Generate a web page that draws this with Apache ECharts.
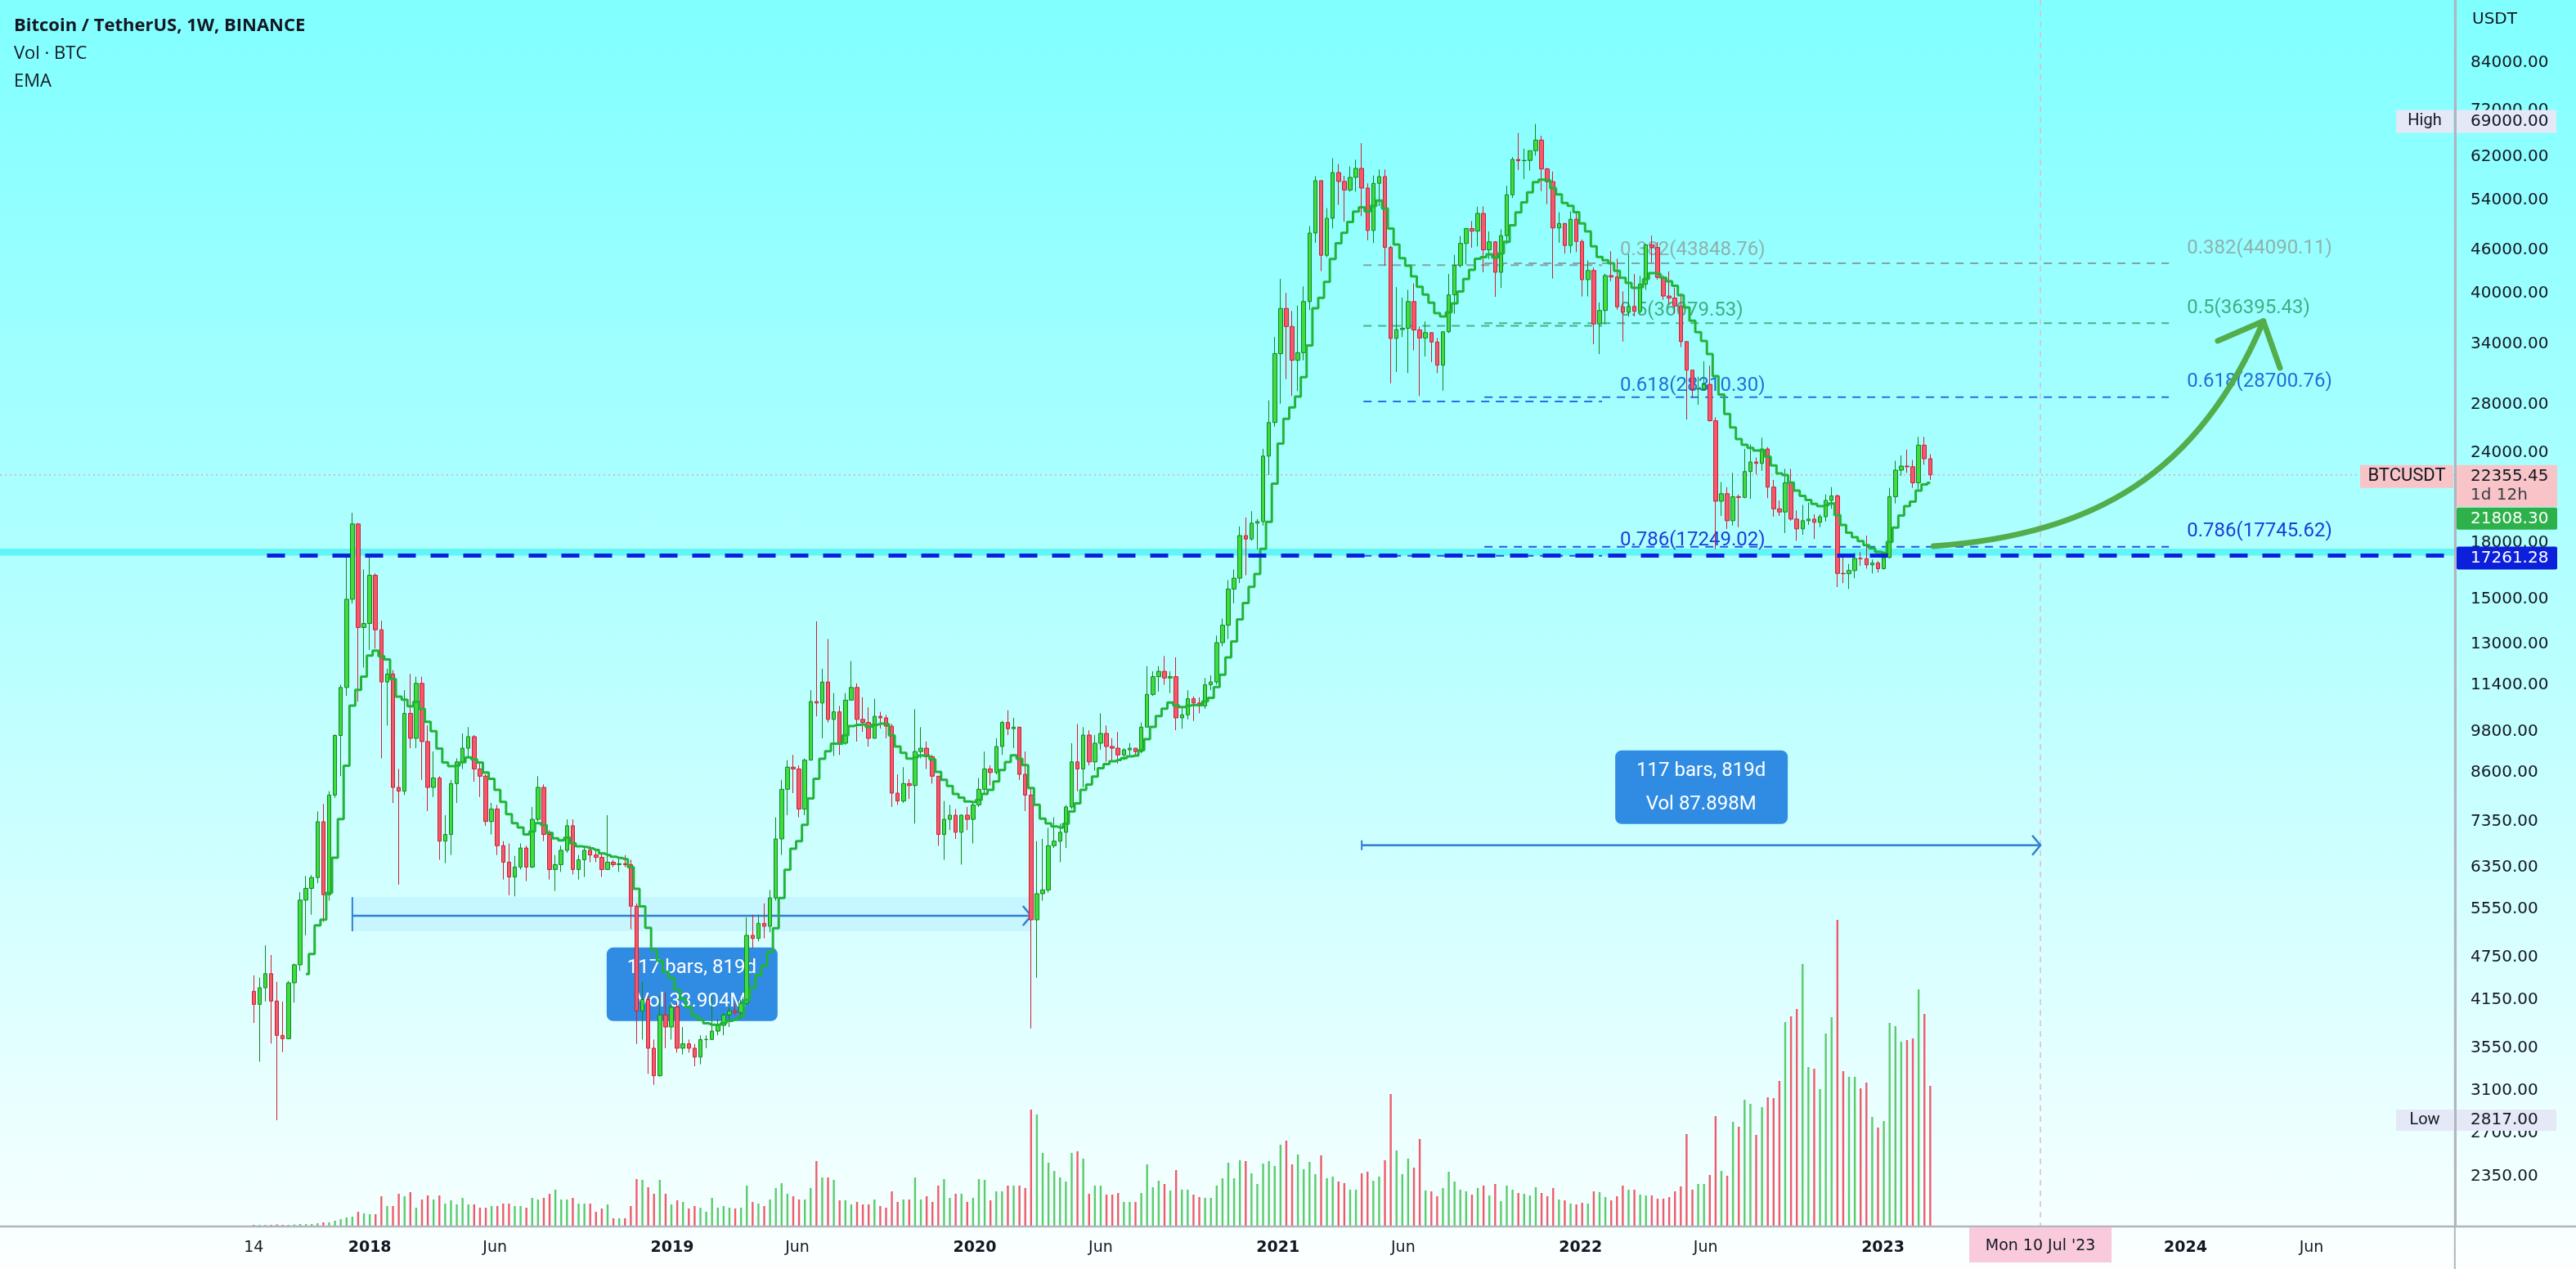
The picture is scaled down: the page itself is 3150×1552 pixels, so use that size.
<!DOCTYPE html>
<html><head><meta charset="utf-8">
<script src="https://cdn.jsdelivr.net/npm/echarts@6.0.0/dist/echarts.min.js"></script>
<style>
html,body{margin:0;padding:0;width:3150px;height:1552px;overflow:hidden;}
#c{width:3150px;height:1552px;background:linear-gradient(to bottom,#80ffff 0px,#b6ffff 760px,#f6ffff 1498px,#fdffff 1552px);}
</style></head>
<body><div id="c"></div>
<script>
// ---------- DATA (weekly BTCUSDT, Binance) ----------
const weeks = [
'2017-08-14','2017-08-21','2017-08-28','2017-09-04','2017-09-11','2017-09-18','2017-09-25','2017-10-02','2017-10-09','2017-10-16','2017-10-23','2017-10-30','2017-11-06','2017-11-13','2017-11-20','2017-11-27','2017-12-04','2017-12-11','2017-12-18','2017-12-25',
'2018-01-01','2018-01-08','2018-01-15','2018-01-22','2018-01-29','2018-02-05','2018-02-12','2018-02-19','2018-02-26','2018-03-05','2018-03-12','2018-03-19','2018-03-26','2018-04-02','2018-04-09','2018-04-16','2018-04-23','2018-04-30','2018-05-07','2018-05-14','2018-05-21','2018-05-28','2018-06-04','2018-06-11','2018-06-18','2018-06-25','2018-07-02','2018-07-09','2018-07-16','2018-07-23','2018-07-30','2018-08-06','2018-08-13','2018-08-20','2018-08-27','2018-09-03','2018-09-10','2018-09-17','2018-09-24','2018-10-01','2018-10-08','2018-10-15','2018-10-22','2018-10-29','2018-11-05','2018-11-12','2018-11-19','2018-11-26','2018-12-03','2018-12-10','2018-12-17','2018-12-24','2018-12-31',
'2019-01-07','2019-01-14','2019-01-21','2019-01-28','2019-02-04','2019-02-11','2019-02-18','2019-02-25','2019-03-04','2019-03-11','2019-03-18','2019-03-25','2019-04-01','2019-04-08','2019-04-15','2019-04-22','2019-04-29','2019-05-06','2019-05-13','2019-05-20','2019-05-27','2019-06-03','2019-06-10','2019-06-17','2019-06-24','2019-07-01','2019-07-08','2019-07-15','2019-07-22','2019-07-29','2019-08-05','2019-08-12','2019-08-19','2019-08-26','2019-09-02','2019-09-09','2019-09-16','2019-09-23','2019-09-30','2019-10-07','2019-10-14','2019-10-21','2019-10-28','2019-11-04','2019-11-11','2019-11-18','2019-11-25','2019-12-02','2019-12-09','2019-12-16','2019-12-23','2019-12-30',
'2020-01-06','2020-01-13','2020-01-20','2020-01-27','2020-02-03','2020-02-10','2020-02-17','2020-02-24','2020-03-02','2020-03-09','2020-03-16','2020-03-23','2020-03-30','2020-04-06','2020-04-13','2020-04-20','2020-04-27','2020-05-04','2020-05-11','2020-05-18','2020-05-25','2020-06-01','2020-06-08','2020-06-15','2020-06-22','2020-06-29','2020-07-06','2020-07-13','2020-07-20','2020-07-27','2020-08-03','2020-08-10','2020-08-17','2020-08-24','2020-08-31','2020-09-07','2020-09-14','2020-09-21','2020-09-28','2020-10-05','2020-10-12','2020-10-19','2020-10-26','2020-11-02','2020-11-09','2020-11-16','2020-11-23','2020-11-30','2020-12-07','2020-12-14','2020-12-21','2020-12-28',
'2021-01-04','2021-01-11','2021-01-18','2021-01-25','2021-02-01','2021-02-08','2021-02-15','2021-02-22','2021-03-01','2021-03-08','2021-03-15','2021-03-22','2021-03-29','2021-04-05','2021-04-12','2021-04-19','2021-04-26','2021-05-03','2021-05-10','2021-05-17','2021-05-24','2021-05-31','2021-06-07','2021-06-14','2021-06-21','2021-06-28','2021-07-05','2021-07-12','2021-07-19','2021-07-26','2021-08-02','2021-08-09','2021-08-16','2021-08-23','2021-08-30','2021-09-06','2021-09-13','2021-09-20','2021-09-27','2021-10-04','2021-10-11','2021-10-18','2021-10-25','2021-11-01','2021-11-08','2021-11-15','2021-11-22','2021-11-29','2021-12-06','2021-12-13','2021-12-20','2021-12-27',
'2022-01-03','2022-01-10','2022-01-17','2022-01-24','2022-01-31','2022-02-07','2022-02-14','2022-02-21','2022-02-28','2022-03-07','2022-03-14','2022-03-21','2022-03-28','2022-04-04','2022-04-11','2022-04-18','2022-04-25','2022-05-02','2022-05-09','2022-05-16','2022-05-23','2022-05-30','2022-06-06','2022-06-13','2022-06-20','2022-06-27','2022-07-04','2022-07-11','2022-07-18','2022-07-25','2022-08-01','2022-08-08','2022-08-15','2022-08-22','2022-08-29','2022-09-05','2022-09-12','2022-09-19','2022-09-26','2022-10-03','2022-10-10','2022-10-17','2022-10-24','2022-10-31','2022-11-07','2022-11-14','2022-11-21','2022-11-28','2022-12-05','2022-12-12','2022-12-19','2022-12-26',
'2023-01-02','2023-01-09','2023-01-16','2023-01-23','2023-01-30','2023-02-06','2023-02-13','2023-02-20','2023-02-27'
];
const open = [
4261,4086,4310,4509,4130,3699,3660,4379,4640,5710, 5930,6140,7345,5811,8000,9687,11300,15000,19100,13700,
13880,16200,13600,11500,11800,8200,8100,10400,9600,11450, 9500,8200,8450,6900,7050,8300,8900,9300,9650,8700,
8500,7350,7650,6800,6450,6150,6350,6750,6350,7400, 8200,7050,6300,6400,6700,7250,6300,6500,6700,6600,
6550,6300,6450,6400,6420,6400,5600,4000,4150,3550, 3250,3950,3800,4050,3550,3600,3550,3450,3650,3650,
3750,3820,3950,4000,3980,4100,5100,5050,5300,5250, 5750,6950,8150,8750,8700,7650,8950,10800,10750,11500,
10200,10450,9450,10850,11300,10200,10100,9600,10300,10250, 9980,8050,7850,8300,8250,9200,9300,9050,8500,7050,
7400,7500,7100,7500,7400,7750,8150,8700,8600,9350, 10100,9900,9950,8550,8000,5360,5830,5900,6800,6900,
7100,7700,8900,8700,9700,8900,9450,9750,9350,9300, 9100,9250,9300,9200,9950,11050,11700,11900,11650,11700,
10250,10350,10900,10750,10650,11400,11500,13050,13800,15500, 16050,18400,18200,19150,19250,23750,26450,33000,38150,36000,
32300,33100,39000,48600,57500,45250,50950,59000,57350,55800, 58100,59800,56150,49000,57000,58250,46400,34650,35650,35800,
39000,35600,34700,35300,34250,31800,35400,39850,43800,47000, 49300,48900,51750,46050,47250,42850,48200,54950,61550,61300,
61350,63300,65500,59700,57300,49400,50100,46700,50800,47300, 41850,43100,36300,37900,42400,42200,38350,37700,38400,37800,
41250,46800,46400,42150,39700,39450,38450,34300,31300,29450, 29460,29900,26600,20550,21050,19300,20850,20800,22600,23300,
23200,24300,21500,20050,19850,21800,19400,18800,19300,19400, 19200,19550,20600,20900,16300,16280,16450,17100,17090,16750,
16850,16550,17150,20850,22700,23000,22950,21800,24600,23550
];
const high = [
4485,4453,4939,4788,4394,4123,4406,4658,5857,6171, 6189,7590,7776,8100,9719,11400,17204,19798,19150,16500,
17250,16300,14000,12000,11950,8700,11200,11800,11700,11700, 10000,9200,8500,7500,8400,9000,9750,9950,9700,8880,
8550,7800,7750,6900,6850,6580,6850,6800,7700,8500, 8280,7150,6600,6800,7400,7400,6600,6800,6800,6700,
6650,7500,6500,6550,6600,6500,5650,4400,4200,3650, 4200,4250,4100,4100,3800,3650,3600,3700,3700,4200,
3900,3970,4050,4100,4150,5400,5450,5450,5650,5900, 7450,8400,8950,9100,8800,9000,11200,13970,12000,13200,
11100,10650,11100,12300,11450,10950,10600,10900,10450,10350, 10050,8550,8750,8420,10540,9950,9500,9100,8500,7850,
7750,7650,7520,7700,7850,8450,9200,8800,9600,10150, 10500,10250,9950,9200,8200,6900,6950,7200,7450,7300,
7750,9450,10050,9950,9850,9700,10400,10000,9600,9800, 9300,9450,9300,10100,12100,11900,12100,12500,11900,12450,
10600,11200,10990,10950,11650,11750,13350,14100,15950,16500, 18950,19500,19900,19400,24300,28400,34800,41950,40100,37850,
38500,40950,49700,58350,57500,52650,61800,60650,58400,60200, 61500,64854,57000,58450,59600,59600,46650,40850,39500,40500,
41350,36000,36600,35300,34700,35400,42600,45300,48150,49400, 50500,52900,52950,48850,47350,49200,56550,62000,67000,63700,
63300,69000,66400,59900,59200,51950,50200,52100,52100,47600, 44500,43500,38900,42650,45850,44750,40300,45400,42600,42350,
46900,48200,47200,42450,42950,40800,40050,34300,31300,30650, 32200,31750,26900,21850,21500,22500,21000,24300,24650,23650,
25200,24450,22000,20600,22800,22800,19950,20300,20450,19700, 19700,21000,21500,21000,17200,16800,17400,17450,18400,17050,
16950,17200,21450,23400,23800,24250,23450,25250,25250,23900
];
const low = [
3850,3400,4124,3603,2817,3505,3653,4110,4550,5100, 5450,6030,5325,5700,7930,8500,11000,14800,10800,12050,
12750,12800,9000,10000,7800,6000,8000,9300,9300,8400, 7600,7950,6500,6430,6600,7800,8700,9000,8350,7950,
7250,7050,6600,6100,5800,5780,6300,6070,6330,7350, 6900,6100,5880,6250,6650,6200,6100,6150,6450,6450,
6150,6300,6350,6250,6350,5200,3600,3650,3270,3156, 3240,3550,3650,3500,3480,3500,3350,3370,3550,3650,
3700,3700,3800,3950,3900,4080,4900,5000,5050,5150, 5700,6600,7500,8050,7450,7500,8950,10300,9600,10100,
9070,9100,9400,10850,9500,9800,9350,9600,9900,9600, 7700,7750,7800,7900,7300,9000,8700,8300,6800,6500,
7150,6950,6400,7150,6850,7700,8050,8250,8550,9100, 9700,9300,8400,7600,3782,4450,5700,5850,6750,6450,
6750,7650,8100,8200,8800,8650,9250,8900,8900,8850, 8950,9050,9050,9150,9950,11000,11150,11400,11100,9850,
9900,10200,10150,10400,10550,11200,11400,12900,13200,14800, 15800,16200,18100,17600,19000,22350,26100,28100,30400,28800,
29250,32300,37950,47100,43000,44950,49300,53200,50400,55500, 55500,51300,47500,47050,53000,43800,30000,31100,34800,31000,
33350,28800,32700,32100,31000,29300,35250,37500,43500,43950, 46350,46550,42850,44700,39600,40750,46900,54400,59500,57800,
59400,62300,55600,53300,42000,47100,45500,45550,45700,39650, 39650,34000,32950,36250,41650,38000,34300,37150,37200,37550,
40500,44200,41850,39200,38550,37550,33700,26700,28600,28000, 29300,26550,17622,19600,18800,19000,18900,20750,20700,22400,
22650,20750,19550,19600,18550,19300,18100,18450,19050,18200, 18900,19250,20050,15600,15800,15500,16050,16700,16550,16300,
16350,16500,17100,20400,22300,22500,21450,21350,23100,22000
];
const close = [
4086,4310,4509,4130,3699,3660,4379,4640,5710,5930, 6140,7345,5811,8000,9687,11300,15000,19100,13700,13880,
16200,13600,11500,11800,8200,8100,10400,9600,11450,9500, 8200,8450,6900,7050,8300,8900,9300,9650,8700,8500,
7350,7650,6800,6450,6150,6350,6750,6350,7400,8200, 7050,6300,6400,6700,7250,6300,6500,6700,6600,6550,
6300,6450,6400,6420,6400,5600,4000,4150,3550,3250, 3950,3800,4050,3550,3600,3550,3450,3650,3650,3750,
3820,3950,4000,3980,4100,5100,5050,5300,5250,5750, 6950,8150,8750,8700,7650,8950,10800,10750,11500,10200,
10450,9450,10850,11300,10200,10100,9600,10300,10250,9980, 8050,7850,8300,8250,9200,9300,9050,8500,7050,7400,
7500,7100,7500,7400,7750,8150,8700,8600,9350,10100, 9900,9950,8550,8000,5360,5830,5900,6800,6900,7100,
7700,8900,8700,9700,8900,9450,9750,9350,9300,9100, 9250,9300,9200,9950,11050,11700,11900,11650,11700,10250,
10350,10900,10750,10650,11400,11500,13050,13800,15500,16050, 18400,18200,19150,19250,23750,26450,33000,38150,36000,32300,
33100,39000,48600,57500,45250,50950,59000,57350,55800,58100, 59800,56150,49000,57000,58250,46400,34650,35650,35800,39000,
35600,34700,35300,34250,31800,35400,39850,43800,47000,49300, 48900,51750,46050,47250,42850,48200,54950,61550,61300,61350,
63300,65500,59700,57300,49400,50100,46700,50800,47300,41850, 43100,36300,37900,42400,42200,38350,37700,38400,37800,41250,
46800,46400,42150,39700,39450,38450,34300,31300,29450,29460, 29900,26600,20550,21050,19300,20850,20800,22600,23300,23200,
24300,21500,20050,19850,21800,19400,18800,19300,19400,19200, 19550,20600,20900,16300,16280,16450,17100,17090,16750,16850,
16550,17150,20850,22700,23000,22950,21800,24600,23550,22355.45
];
// weekly volume, thousand BTC
const volume = [
20,20,20,20,25,20,20,25,30,30, 30,40,50,50,70,90,110,120,180,160,
150,150,370,250,250,400,370,420,230,330, 380,330,380,280,320,270,350,270,270,230,
230,250,250,280,280,250,250,230,350,330, 350,400,450,330,330,350,280,280,280,180,
220,270,100,100,100,250,580,570,480,400, 570,400,270,320,300,220,250,230,180,350,
230,250,230,220,230,500,300,280,250,330, 470,530,400,370,330,330,470,800,600,600,
570,320,320,270,300,270,270,330,250,230, 430,300,330,330,600,330,370,300,500,580,
350,400,400,300,350,580,570,320,430,430, 500,500,500,470,1430,1370,900,780,680,600,
550,900,920,830,400,500,500,390,390,410, 300,300,300,410,760,480,560,520,440,690,
450,450,390,360,350,350,500,590,780,590, 810,800,650,520,770,800,740,1000,1050,760,
880,700,790,640,870,590,610,550,530,450, 450,650,670,560,610,810,1620,930,640,830,
720,1070,440,430,370,470,670,550,450,430, 390,470,500,380,520,310,500,450,410,400,
380,480,410,370,470,330,320,280,270,290, 280,430,420,360,320,370,500,450,450,390,
380,380,340,340,360,430,490,1130,450,520, 520,630,1350,680,620,1280,1220,1550,1500,1120,
1460,1580,1570,1780,2500,2570,2660,3210,1950,1930, 1680,2360,2560,3750,1900,1830,1830,1690,1760,1340,
1210,1290,2490,2450,2260,2280,2300,2900,2600,1720
];
const emaLength = 10;

// price-scale labels and date labels
const yTicks = [84000,72000,62000,54000,46000,40000,34000,28000,24000,18000,15000,13000,11400,9800,8600,7350,6350,5550,4750,4150,3550,3100,2700,2350];
const xTickDates = ['2017-08-14','2018-01-01','2018-06-01','2019-01-01','2019-06-01','2020-01-01','2020-06-01','2021-01-01','2021-06-01','2022-01-01','2022-06-01','2023-01-01','2024-01-01','2024-06-01'];
const xTickTexts = ['14','2018','Jun','2019','Jun','2020','Jun','2021','Jun','2022','Jun','2023','2024','Jun'];
const xTickBold  = [false,true,false,true,false,true,false,true,false,true,false,true,true,false];

// Fibonacci retracements
const fibLevels = [0.382, 0.5, 0.618, 0.786];
const fibAPrices = [43848.76, 36079.53, 28310.30, 17249.02];
const fibARange = ['2021-04-14', '2022-01-27'];
const fibBPrices = [44090.11, 36395.43, 28700.76, 17745.62];
const fibBRange = ['2021-09-07', '2023-12-12'];

// horizontal levels / labels
const supportLevel = 17261.28;
const supportStart = '2017-08-30';
const lastPrice = 22355.45;
const emaLastLabel = '21808.30';
const countdown = '1d 12h';
const allTimeHigh = 69000;
const visibleLow = 2817;
const crosshairDate = '2023-07-10';

// date-range measurements
const measure1Dates = ['2017-12-11', '2020-03-09'];
const measure1Price = 5430, measure1Band = [5168, 5765];
const measure1Text = ['117 bars, 819d', 'Vol 33.904M'];
const measure2Dates = ['2021-04-12', '2023-07-10'];
const measure2Price = 6810;
const measure2Text = ['117 bars, 819d', 'Vol 87.898M'];

// curved projection arrow (date, price anchors)
const arrowDates = ['2023-03-03', '2023-09-11', '2024-01-17', '2024-04-04'];
const arrowPrices = [17790, 18410, 22410, 36620];
const arrowHeadDates = ['2024-02-09', '2024-04-04', '2024-04-24'];
const arrowHeadPrices = [34380, 36620, 31530];

// ---------- CHART ----------
const T = s => Date.parse(s + 'T00:00:00Z');
const UP = '#3fdc3f', UP_B = '#10871f', DN = '#f25a6c', DN_B = '#cf1e33';
const candleData = weeks.map((w, i) => [T(w), open[i], close[i], low[i], high[i]]);
const volData = weeks.map((w, i) => ({ value: [T(w), volume[i]], itemStyle: { color: close[i] >= open[i] ? '#5ccb6c' : '#ee5c6c' } }));
// EMA(10) indicator of the closes, seeded with the SMA of the first 10 closes
const emaData = [];
{
  let e = null;
  for (let i = 0; i < close.length; i++) {
    if (i === emaLength - 1) { let s = 0; for (let j = 0; j < emaLength; j++) s += close[j]; e = s / emaLength; }
    else if (i >= emaLength) { e = close[i] * 2 / (emaLength + 1) + e * (1 - 2 / (emaLength + 1)); }
    if (e !== null) emaData.push([T(weeks[i]), e]);
  }
}

const chart = echarts.init(document.getElementById('c'), null, { renderer: 'canvas', width: 3150, height: 1552 });
const X_MIN = Date.UTC(2016, 9, 13), X_MAX = Date.UTC(2024, 10, 21);
chart.setOption({
  animation: false,
  backgroundColor: 'transparent',
  grid: { left: 0, right: 147, top: 0, bottom: 52, containLabel: false },
  xAxis: { type: 'time', min: X_MIN, max: X_MAX, axisLabel: { show: false }, axisTick: { show: false }, splitLine: { show: false },
           axisLine: { show: true, lineStyle: { color: '#b2b5be', width: 2 } } },
  yAxis: [
    { type: 'log', logBase: 10, min: 2003, max: 102680, position: 'right', axisLabel: { show: false }, axisTick: { show: false },
      splitLine: { show: false }, axisLine: { show: true, lineStyle: { color: '#b2b5be', width: 2 } } },
    { type: 'value', min: 0, max: 15000, show: false, splitLine: { show: false } }
  ],
  series: [
    { type: 'bar', name: 'Vol', yAxisIndex: 1, data: volData, barWidth: 2.4, z: 2 },
    { type: 'candlestick', name: 'BTCUSDT', data: candleData, encode: { x: 0, y: [1, 2, 3, 4] }, barWidth: 5, z: 3,
      itemStyle: { color: UP, color0: DN, borderColor: UP_B, borderColor0: DN_B, borderWidth: 1 } },
    { type: 'line', name: 'EMA', data: emaData, step: 'middle', showSymbol: false, symbol: 'none', z: 4,
      lineStyle: { color: '#22b43a', width: 3 } }
  ]
});

const X = d => chart.convertToPixel({ xAxisIndex: 0 }, T(d));
const Xt = t => chart.convertToPixel({ xAxisIndex: 0 }, t);
const Y = p => chart.convertToPixel({ yAxisIndex: 0 }, p);
const g = [];
const txt = (x, y, text, font, fill, align, z) => g.push({ type: 'text', x, y, z: z || 20, silent: true,
  style: { text, font, fill, textAlign: align || 'left', textVerticalAlign: 'middle', align: align || 'left', verticalAlign: 'middle' } });
const rect = (x, y, w, h, fill, z, r) => g.push({ type: 'rect', z: z || 20, silent: true, shape: { x, y, width: w, height: h, r: r || 0 }, style: { fill } });
const line = (x1, y1, x2, y2, stroke, lw, dash, z) => g.push({ type: 'line', z: z || 1, silent: true, shape: { x1, y1, x2, y2 },
  style: { stroke, lineWidth: lw, lineDash: dash || null } });

const plotR = Xt(X_MAX), plotB = Y(2003);
// frame lines
line(0, plotB, 3150, plotB, '#b2b5be', 2.5, null, 30);
line(plotR, 0, plotR, 1552, '#b2b5be', 2, null, 30);

// cyan highlight band + support line
const bandTop = Y(17650), bandBot = Y(supportLevel);
rect(0, bandTop, plotR, bandBot - bandTop, 'rgba(90,244,246,0.9)', 1);
line(X(supportStart), Y(supportLevel), plotR, Y(supportLevel), '#0a22dc', 5, [22, 18], 6);

// last price dotted line & crosshair
line(0, Y(lastPrice), plotR, Y(lastPrice), '#e7a3b6', 1.5, [2, 4], 1);
line(X(crosshairDate), 0, X(crosshairDate), plotB, '#e6b9cc', 1.5, [7, 6], 1);

// Fibonacci
const fibLine = ['#87a2a2', '#49b18c', '#2a6fe2', '#2456ea'];
const fibText = ['#8fb1ae', '#3fae82', '#1e6fd8', '#1a3ed6'];
[[fibAPrices, fibARange], [fibBPrices, fibBRange]].forEach(([prices, rng]) => {
  const x1 = X(rng[0]), x2 = X(rng[1]);
  prices.forEach((p, k) => {
    const y = Y(p);
    line(x1, y, x2, y, fibLine[k], 2, [10, 8], 1);
    txt(x2 + 22, y - 18.5, fibLevels[k] + '(' + p.toFixed(2) + ')', '24px Roboto', fibText[k], 'left', 1);
  });
});

// measurement 1
{
  const xs = X(measure1Dates[0]), xe = X(measure1Dates[1]), y = Y(measure1Price);
  const bt = Y(measure1Band[1]), bb = Y(measure1Band[0]);
  rect(xs, bt, xe - xs, bb - bt, 'rgba(150,215,255,0.22)', 1);
  line(xs, y, xe, y, '#2f7fd3', 2.5, null, 1);
  line(xs, bt, xs, bb, '#2f7fd3', 2, null, 1);
  g.push({ type: 'polyline', z: 1, silent: true, shape: { points: [[xe - 10, y - 12], [xe, y], [xe - 10, y + 12]] }, style: { stroke: '#2f7fd3', lineWidth: 2.5, fill: null } });
  const cx = (xs + xe) / 2, top = bb + 20;
  rect(cx - 104, top, 209, 90, '#308ce2', 1, 8);
  txt(cx, top + 25, measure1Text[0], '24px Roboto', '#ffffff', 'center', 1);
  txt(cx, top + 66, measure1Text[1], '24px Roboto', '#ffffff', 'center', 1);
}
// measurement 2
{
  const xs = X(measure2Dates[0]), xe = X(measure2Dates[1]), y = Y(measure2Price);
  line(xs, y, xe, y, '#2f7fd3', 2.5, null, 1);
  line(xs, y - 6, xs, y + 6, '#2f7fd3', 2, null, 1);
  g.push({ type: 'polyline', z: 1, silent: true, shape: { points: [[xe - 10, y - 12], [xe, y], [xe - 10, y + 12]] }, style: { stroke: '#2f7fd3', lineWidth: 2.5, fill: null } });
  const cx = (xs + xe) / 2, bottom = y - 26;
  rect(cx - 105, bottom - 90, 211, 90, '#308ce2', 1, 8);
  txt(cx, bottom - 65, measure2Text[0], '24px Roboto', '#ffffff', 'center', 1);
  txt(cx, bottom - 24, measure2Text[1], '24px Roboto', '#ffffff', 'center', 1);
}

// curved arrow
{
  const P = arrowDates.map((d, i) => [X(d), Y(arrowPrices[i])]);
  g.push({ type: 'bezierCurve', z: 8, silent: true,
    shape: { x1: P[0][0], y1: P[0][1], cpx1: P[1][0], cpy1: P[1][1], cpx2: P[2][0], cpy2: P[2][1], x2: P[3][0], y2: P[3][1] },
    style: { stroke: '#52ad4a', lineWidth: 7, fill: null, lineCap: 'round' } });
  const H = arrowHeadDates.map((d, i) => [X(d), Y(arrowHeadPrices[i])]);
  g.push({ type: 'polyline', z: 8, silent: true, shape: { points: H }, style: { stroke: '#52ad4a', lineWidth: 7, fill: null, lineCap: 'round', lineJoin: 'round' } });
}

// price scale labels
const AX = '20px "DejaVu Sans"';
txt(3023, 24, 'USDT', AX, '#131722', 'left', 40);
yTicks.forEach(v => txt(3021, Y(v), v.toFixed(2), AX, '#131722', 'left', 40));

// date labels
xTickDates.forEach((d, i) => txt(X(d), 1526, xTickTexts[i], (xTickBold[i] ? 'bold ' : '') + '19px "DejaVu Sans"', '#131722', 'center', 40));
{
  const cx = X(crosshairDate);
  rect(cx - 87, 1501, 174, 43, '#f9cadb', 45);
  txt(cx, 1524, "Mon 10 Jul '23", '19px "DejaVu Sans"', '#131722', 'center', 46);
}

// High / Low labels
{
  const y = Y(allTimeHigh);
  rect(2930, y - 17, 70, 28, '#e4e8f7', 45);
  txt(2965, y - 3, 'High', '20px Roboto', '#131722', 'center', 46);
  rect(3004, y - 17, 122, 28, '#e4e8f7', 45);
  txt(3021, y - 3, allTimeHigh.toFixed(2), AX, '#131722', 'left', 46);
}
{
  const y = Y(visibleLow);
  rect(2930, y - 13, 70, 26, '#e4e8f7', 45);
  txt(2965, y, 'Low', '20px Roboto', '#131722', 'center', 46);
  rect(3004, y - 13, 122, 26, '#e4e8f7', 45);
  txt(3021, y, visibleLow.toFixed(2), AX, '#131722', 'left', 46);
}
// last price label
{
  const y = Y(lastPrice);
  rect(2886, y - 12, 114, 28, '#f8c4c7', 45);
  txt(2943, y + 2, 'BTCUSDT', '22px Roboto', '#131722', 'center', 46);
  rect(3004, y - 12, 123, 51, '#f8c4c7', 45);
  txt(3021, y + 2, lastPrice.toFixed(2), AX, '#131722', 'left', 46);
  txt(3021, y + 25, countdown, AX, '#3a3d46', 'left', 46);
  rect(3004, y + 40, 123, 27, '#2db14a', 45, 2);
  txt(3021, y + 53.5, emaLastLabel, AX, '#ffffff', 'left', 46);
}
// support label
{
  const y = Y(supportLevel);
  rect(3004, y - 11, 123, 28, '#0c20dc', 45, 2);
  txt(3021, y + 3, supportLevel.toFixed(2), AX, '#ffffff', 'left', 46);
}

// legend texts
txt(17, 32, 'Bitcoin / TetherUS, 1W, BINANCE', 'bold 22px "Open Sans"', '#131722', 'left', 50);
txt(17, 66, 'Vol · BTC', '22px "Open Sans"', '#131722', 'left', 50);
txt(17, 100, 'EMA', '22px "Open Sans"', '#131722', 'left', 50);

chart.setOption({ graphic: { elements: g } });
</script>
</body></html>
